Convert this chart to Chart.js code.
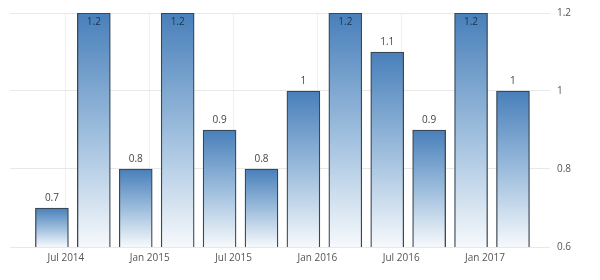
<!DOCTYPE html>
<html>
<head>
<meta charset="utf-8">
<script src="https://cdn.jsdelivr.net/npm/chart.js@4/dist/chart.umd.min.js"></script>
<style>
  html, body { margin: 0; padding: 0; background: #ffffff; }
  #wrap { width: 600px; height: 280px; }
</style>
</head>
<body>
<div id="wrap"><canvas id="grafico" width="600" height="280"></canvas></div>
<script>
// dados trimestrais (mês de referência de cada barra)
const periodos = ['2014-06', '2014-09', '2014-12', '2015-03', '2015-06', '2015-09',
                  '2015-12', '2016-03', '2016-06', '2016-09', '2016-12', '2017-03'];
const valores = [0.7, 1.2, 0.8, 1.2, 0.9, 0.8, 1, 1.2, 1.1, 0.9, 1.2, 1];

// rótulos do eixo x
const datasTicks = ['2014-07', '2015-01', '2015-07', '2016-01', '2016-07', '2017-01'];
const rotulosTicks = ['Jul 2014', 'Jan 2015', 'Jul 2015', 'Jan 2016', 'Jul 2016', 'Jan 2017'];

// rótulos do eixo y
const ticksY = [0.6, 0.8, 1, 1.2];

// meses desde jan/2014
function mesIndice(s) {
  const [a, m] = s.split('-').map(Number);
  return (a - 2014) * 12 + (m - 1);
}

const pontos = periodos.map((p, i) => ({ x: mesIndice(p), y: valores[i] }));
const mesesTicks = datasTicks.map(mesIndice);

const fonte = '"Open Sans", "DejaVu Sans", sans-serif';

const rotulosValores = {
  id: 'rotulosValores',
  afterDatasetsDraw(chart) {
    const c = chart.ctx;
    const meta = chart.getDatasetMeta(0);
    const yMax = ticksY[ticksY.length - 1];
    c.save();
    c.font = '10px ' + fonte;
    c.textAlign = 'center';
    c.textBaseline = 'middle';
    meta.data.forEach((barra, i) => {
      const v = valores[i];
      const dentro = v >= yMax;
      c.fillStyle = dentro ? '#1f3347' : '#444444';
      c.fillText(String(v), barra.x, dentro ? barra.y + 9 : barra.y - 10);
    });
    c.restore();
  }
};

new Chart(document.getElementById('grafico'), {
  type: 'bar',
  data: {
    datasets: [{
      data: pontos,
      barThickness: 33,
      borderWidth: 1.3,
      borderColor: '#3a4754',
      backgroundColor: (ctx) => {
        const chart = ctx.chart;
        const area = chart.chartArea;
        if (!area || ctx.type !== 'data') return '#4a80b9';
        const topo = chart.scales.y.getPixelForValue(ctx.raw.y);
        const g = chart.ctx.createLinearGradient(0, topo, 0, area.bottom);
        g.addColorStop(0, 'rgb(72, 127, 186)');
        g.addColorStop(0.5, 'rgb(155, 188, 220)');
        g.addColorStop(1, 'rgb(246, 249, 252)');
        return g;
      }
    }]
  },
  options: {
    responsive: false,
    animation: false,
    layout: { padding: { left: 10, top: 10, right: 0, bottom: 0 } },
    plugins: {
      legend: { display: false },
      tooltip: { enabled: false }
    },
    scales: {
      x: {
        type: 'linear',
        offset: false,
        min: 2,
        max: 40.65,
        afterFit: (s) => { s.height = 33; },
        afterBuildTicks: (s) => { s.ticks = mesesTicks.map(v => ({ value: v })); },
        border: { display: false },
        grid: { color: '#f0f0f0', drawTicks: false, offset: false },
        ticks: {
          padding: 5,
          color: '#555555',
          font: { family: fonte, size: 10 },
          maxRotation: 0,
          autoSkip: false,
          callback: (v) => rotulosTicks[mesesTicks.indexOf(v)]
        }
      },
      y: {
        position: 'right',
        min: ticksY[0],
        max: ticksY[ticksY.length - 1],
        afterFit: (s) => { s.width = 50; },
        afterBuildTicks: (s) => { s.ticks = ticksY.map(v => ({ value: v })); },
        border: { display: false },
        grid: { color: '#e8e8e8', drawTicks: false },
        ticks: {
          padding: 7,
          color: '#555555',
          font: { family: fonte, size: 10 },
          callback: (v) => String(v)
        }
      }
    }
  },
  plugins: [rotulosValores]
});
</script>
</body>
</html>
